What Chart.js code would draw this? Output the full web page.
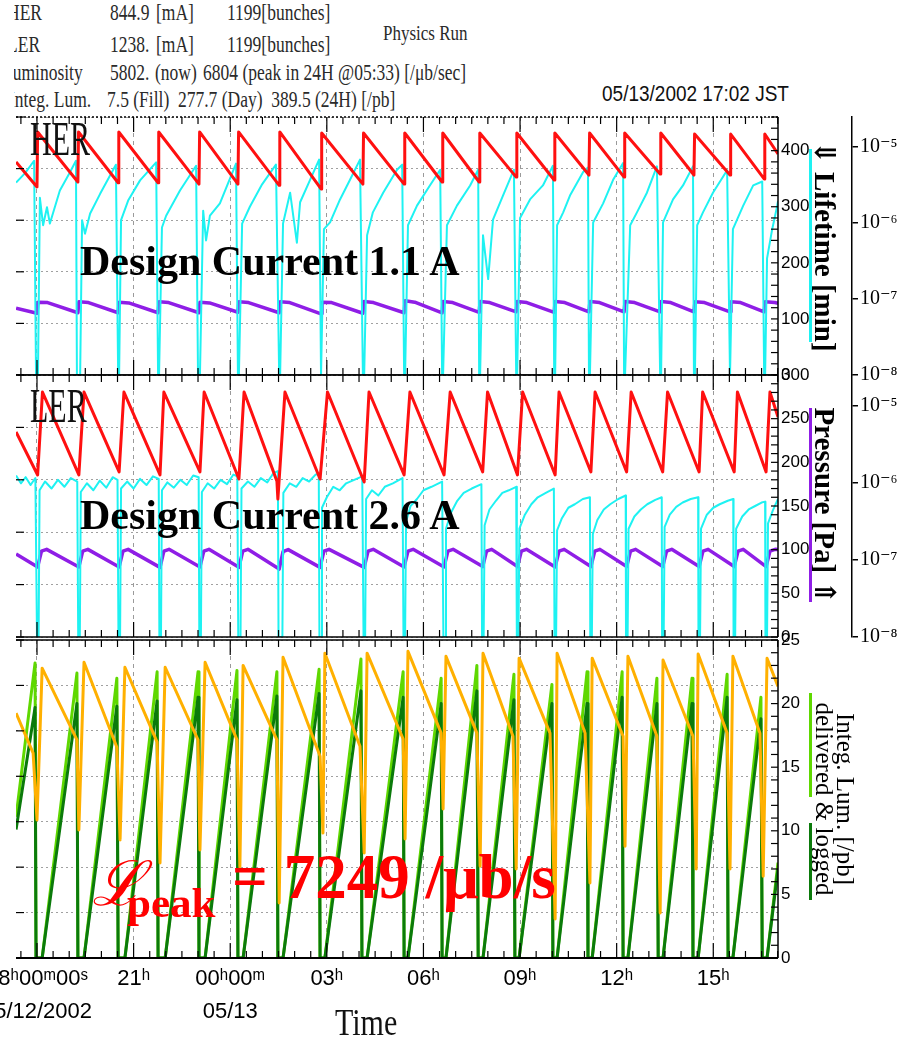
<!DOCTYPE html>
<html>
<head>
<meta charset="utf-8">
<title>KEKB Physics Run 05/13/2002</title>
<script src="https://cdn.jsdelivr.net/npm/chart.js@4.4.0/dist/chart.umd.min.js"></script>
<style>
  html, body { margin: 0; padding: 0; background: #fff; }
  body { width: 899px; height: 1047px; position: relative; overflow: hidden; }
  .abs { position: absolute; white-space: nowrap; }
  .serif { font-family: 'Liberation Serif', 'DejaVu Serif', serif; }
  .narrow { font-family: 'Liberation Sans Narrow', 'Liberation Sans', Arial, sans-serif; }
  #hdr { position: absolute; left: 14px; top: 0; width: 520px; height: 118px; overflow: hidden; }
  .hl { position: absolute; white-space: pre; font-size: 17.5px; line-height: 18px; color: #2a2a2a;
        transform: scaleY(1.3); transform-origin: 0 0; }
  .panel { position: absolute; left: 0; width: 899px; }
  .bar { position: absolute; width: 3px; }
  .big { font-weight: bold; font-size: 42px; line-height: 42px; color: #000; }
  .lum { color: #ff0000; font-weight: bold; }
</style>
</head>
<body>

<!-- header block (left edge of the original screenshot is cut off) -->
<div id="hdr" class="serif">
  <div class="hl" style="left:-7px; top:0px;">HER</div>
  <div class="hl" style="left:96px; top:0px;">844.9</div>
  <div class="hl" style="left:142px; top:0px;">[mA]</div>
  <div class="hl" style="left:213px; top:0px;">1199[bunches]</div>

  <div class="hl" style="left:-7px; top:32px;">LER</div>
  <div class="hl" style="left:96px; top:32px;">1238.</div>
  <div class="hl" style="left:142px; top:32px;">[mA]</div>
  <div class="hl" style="left:213px; top:32px;">1199[bunches]</div>

  <div class="hl" style="left:-12px; top:60px;">Luminosity</div>
  <div class="hl" style="left:96px; top:60px;">5802.</div>
  <div class="hl" style="left:141px; top:60px;">(now)</div>
  <div class="hl" style="left:189px; top:60px;">6804 (peak in 24H @05:33) [/μb/sec]</div>

  <div class="hl" style="left:-5px; top:87px;">Integ. Lum.</div>
  <div class="hl" style="left:93px; top:87px;">7.5 (Fill)  277.7 (Day)  389.5 (24H) [/pb]</div>
</div>
<div class="abs serif" style="left:383px; top:22px; font-size:17px; line-height:17px; color:#2a2a2a; transform:scaleY(1.25); transform-origin:0 0;">Physics Run</div>
<div class="abs narrow" style="left:602px; top:82px; font-size:19px; line-height:19px; color:#111; transform:scaleY(1.2); transform-origin:0 0;">05/13/2002 17:02 JST</div>

<div class="panel" style="top:100px; height:300px;"><canvas id="herChart"></canvas></div>
<div class="panel" style="top:360px; height:295px;"><canvas id="lerChart"></canvas></div>
<div class="panel" style="top:625px; height:422px;"><canvas id="lumChart"></canvas></div>

<!-- legend colour bars beside the right-hand axis titles -->
<div class="bar" style="left:809px; top:149px; height:193px; background:#1ef2f2;"></div>
<div class="bar" style="left:809px; top:408px; height:194px; background:#8f1ee6;"></div>
<div class="bar" style="left:809px; top:693px; height:104px; background:#5fd800;"></div>
<div class="bar" style="left:809px; top:823px; height:77px; background:#0b7a0b;"></div>

<!-- annotations -->
<div class="abs serif" style="left:30px; top:115px; font-size:30px; line-height:30px; color:#111; transform:scaleY(1.6); transform-origin:0 0;">HER</div>
<div class="abs serif" style="left:30px; top:382px; font-size:30px; line-height:30px; color:#111; transform:scaleY(1.6); transform-origin:0 0;">LER</div>
<div class="abs serif big" style="left:80px; top:240px;">Design Current 1.1 A</div>
<div class="abs serif big" style="left:80px; top:494px;">Design Current 2.6 A</div>
<div class="abs serif lum" style="left:92px; top:853px; font-size:62px; line-height:62px; font-style:italic; font-weight:normal;">ℒ</div>
<div class="abs serif lum" style="left:127px; top:881px; font-size:43px; line-height:43px;">peak</div>
<div class="abs serif lum" style="left:232px; top:846px; font-size:63px; line-height:63px;">= 7249 /μb/s</div>
<div class="abs serif" style="left:335px; top:1004px; font-size:30px; line-height:30px; color:#111; transform:scaleY(1.25); transform-origin:0 0;">Time</div>

<script>
// ==========================================
// 1. DATA (x = hours after 18:00 05/12/2002)
// ==========================================
const xMin = -0.652;
const xMax = 23.01;
const xLabelHours = [0, 3, 6, 9, 12, 15, 18, 21];
const xLabels = [['18ʰ00ᵐ00ˢ', '05/12/2002'], '21ʰ', ['00ʰ00ᵐ', '05/13'], '03ʰ', '06ʰ', '09ʰ', '12ʰ', '15ʰ'];

const presTicks = [1e-8, 1e-7, 1e-6, 1e-5];
const presTickLabels = ['10⁻⁸', '10⁻⁷', '10⁻⁶', '10⁻⁵'];

// HER beam current [mA]
const herCurrent = [
  [-0.65, 826], [0.00, 729], [0.02, 942], [1.27, 748], [1.29, 942], [2.52, 745], [2.54, 942],
  [3.76, 745], [3.78, 942], [5.03, 740], [5.05, 942], [6.24, 740], [6.26, 942], [7.52, 735], [7.54, 942],
  [8.82, 721], [8.84, 938], [10.12, 740], [10.14, 938], [11.40, 740], [11.42, 938], [12.58, 748], [12.60, 938],
  [13.73, 748], [13.75, 938], [14.88, 767], [14.90, 938], [16.06, 756], [16.08, 938], [17.14, 775], [17.16, 938],
  [18.23, 767], [18.25, 938], [19.35, 779], [19.37, 938], [20.40, 775], [20.42, 934], [21.52, 775], [21.54, 934],
  [22.58, 760], [22.60, 934], [23.01, 857]
];

// HER lifetime [min]
const herLifetime = [
  [-0.65, 343], [-0.37, 360], [-0.09, 382], [-0.03, 0], [0.03, 0], [0.09, 316], [0.19, 267], [0.31, 299], [0.40, 270], [0.71, 329], [1.02, 361], [1.21, 382],
  [1.24, 0], [1.34, 0], [1.40, 276], [1.49, 252], [1.65, 288], [1.96, 323], [2.45, 375],
  [2.52, 0], [2.55, 0], [2.61, 276], [2.83, 311], [3.20, 347], [3.70, 379],
  [3.76, 0], [3.79, 0], [3.88, 263], [4.01, 284], [4.44, 329], [4.94, 373],
  [5.00, 0], [5.06, 0], [5.16, 293], [5.25, 240], [5.37, 284], [5.68, 306], [6.18, 377],
  [6.24, 0], [6.27, 0], [6.37, 270], [6.61, 300], [6.99, 340], [7.42, 375],
  [7.52, 0], [7.55, 0], [7.64, 270], [7.86, 325], [8.07, 236], [8.17, 308], [8.48, 348], [8.76, 384],
  [8.82, 0], [8.85, 0], [8.91, 260], [9.10, 272], [9.41, 313], [9.72, 348], [10.03, 384],
  [10.12, 0], [10.16, 0], [10.25, 249], [10.43, 290], [10.75, 325], [11.18, 366], [11.34, 375],
  [11.40, 0], [11.43, 0], [11.52, 267], [11.80, 302], [12.20, 338], [12.52, 366],
  [12.58, 0], [12.61, 0], [12.73, 267], [13.04, 302], [13.45, 338], [13.70, 366],
  [13.73, 0], [13.76, 0], [13.85, 249], [14.01, 171], [14.16, 277], [14.47, 320], [14.81, 366],
  [14.88, 0], [14.91, 0], [15.00, 280], [15.31, 313], [15.71, 338], [16.02, 373],
  [16.06, 0], [16.09, 0], [16.15, 267], [16.34, 290], [16.55, 320], [16.96, 362], [17.11, 370],
  [17.14, 0], [17.17, 0], [17.27, 272], [17.58, 306], [17.89, 348], [18.20, 378],
  [18.23, 0], [18.26, 0], [18.42, 267], [18.63, 290], [18.94, 325], [19.25, 372],
  [19.35, 0], [19.38, 0], [19.44, 272], [19.75, 313], [20.06, 338], [20.37, 372],
  [20.40, 0], [20.43, 0], [20.50, 267], [20.68, 290], [20.99, 325], [21.43, 365],
  [21.52, 0], [21.55, 0], [21.61, 260], [21.93, 302], [22.24, 338], [22.52, 345],
  [22.58, 0], [22.61, 0], [22.67, 208], [22.83, 260], [22.98, 300], [23.01, 310]
];

// HER vacuum pressure [Pa]
const herPressure = [
  [-0.65, 0.76e-7], [0.00, 0.65e-7], [0.03, 0.91e-7], [0.33, 0.90e-7],
  [1.27, 0.66e-7], [1.30, 0.92e-7], [1.60, 0.90e-7],
  [2.52, 0.66e-7], [2.55, 0.91e-7], [2.85, 0.89e-7],
  [3.76, 0.66e-7], [3.79, 0.92e-7], [4.09, 0.90e-7],
  [5.03, 0.66e-7], [5.06, 0.91e-7], [5.36, 0.89e-7],
  [6.24, 0.67e-7], [6.27, 0.92e-7], [6.57, 0.90e-7],
  [7.52, 0.66e-7], [7.55, 0.92e-7], [7.85, 0.90e-7],
  [8.82, 0.64e-7], [8.85, 0.91e-7], [9.15, 0.90e-7],
  [10.12, 0.65e-7], [10.15, 0.93e-7], [10.45, 0.90e-7],
  [11.40, 0.66e-7], [11.43, 0.95e-7], [11.73, 0.91e-7],
  [12.58, 0.66e-7], [12.61, 0.93e-7], [12.91, 0.90e-7],
  [13.73, 0.67e-7], [13.76, 0.93e-7], [14.06, 0.90e-7],
  [14.88, 0.68e-7], [14.91, 0.93e-7], [15.21, 0.90e-7],
  [16.06, 0.67e-7], [16.09, 0.93e-7], [16.39, 0.90e-7],
  [17.14, 0.68e-7], [17.17, 0.93e-7], [17.47, 0.90e-7],
  [18.23, 0.68e-7], [18.26, 0.93e-7], [18.56, 0.90e-7],
  [19.35, 0.68e-7], [19.38, 0.93e-7], [19.68, 0.90e-7],
  [20.40, 0.68e-7], [20.43, 0.92e-7], [20.73, 0.90e-7],
  [21.52, 0.68e-7], [21.55, 0.92e-7], [21.85, 0.90e-7],
  [22.58, 0.68e-7], [22.61, 0.92e-7], [22.91, 0.90e-7], [23.01, 0.88e-7]
];

// LER beam current [mA]
const lerCurrent = [
  [-0.65, 1565], [0.02, 1237], [0.17, 1870], [1.30, 1237], [1.46, 1870], [2.55, 1260], [2.70, 1870],
  [3.82, 1237], [3.94, 1870], [5.06, 1260], [5.19, 1870], [6.27, 1206], [6.43, 1870],
  [7.45, 1190], [7.48, 1053], [7.70, 1870], [8.79, 1206], [9.02, 1870], [10.16, 1183], [10.31, 1870],
  [11.40, 1237], [11.58, 1870], [12.64, 1237], [12.83, 1870], [13.84, 1260], [13.99, 1870],
  [14.92, 1237], [15.08, 1870], [16.09, 1237], [16.21, 1870], [17.20, 1260], [17.33, 1870],
  [18.31, 1260], [18.45, 1870], [19.43, 1260], [19.58, 1870], [20.56, 1260], [20.67, 1870],
  [21.65, 1260], [21.75, 1870], [22.64, 1260], [22.76, 1870], [23.01, 1680]
];

// LER lifetime [min]
const lerLifetime = [
  [-0.65, 185], [-0.50, 176], [-0.35, 183], [-0.20, 174], [-0.05, 182], [0.00, 0], [0.05, 0], [0.08, 168], [0.25, 178], [0.45, 170], [0.65, 180], [0.85, 172], [1.05, 182], [1.25, 178],
  [1.28, 0], [1.33, 0], [1.36, 166], [1.55, 176], [1.75, 168], [1.95, 179], [2.15, 171], [2.35, 183], [2.50, 180],
  [2.53, 0], [2.58, 0], [2.61, 170], [2.80, 178], [3.00, 170], [3.20, 181], [3.40, 174], [3.60, 184], [3.78, 181],
  [3.80, 0], [3.85, 0], [3.88, 168], [4.05, 177], [4.25, 171], [4.45, 180], [4.65, 174], [4.85, 185], [5.02, 183],
  [5.04, 0], [5.09, 0], [5.12, 166], [5.30, 176], [5.50, 170], [5.70, 180], [5.90, 175], [6.10, 186], [6.22, 184],
  [6.25, 0], [6.32, 0], [6.35, 170], [6.55, 178], [6.75, 172], [6.95, 182], [7.15, 177], [7.35, 188], [7.48, 190],
  [7.50, 0], [7.62, 0], [7.65, 165], [7.85, 176], [8.05, 172], [8.25, 182], [8.45, 178], [8.65, 186], [8.75, 186],
  [8.77, 0], [8.82, 0], [8.85, 148], [9.00, 160], [9.20, 172], [9.40, 168], [9.60, 176], [9.85, 180], [10.10, 184],
  [10.14, 0], [10.19, 0], [10.22, 158], [10.40, 168], [10.60, 162], [10.80, 172], [11.05, 176], [11.35, 182],
  [11.38, 0], [11.43, 0], [11.46, 132], [11.60, 150], [11.80, 158], [12.00, 168], [12.25, 172], [12.58, 178],
  [12.62, 0], [12.67, 0], [12.70, 124], [12.85, 142], [13.05, 156], [13.25, 165], [13.50, 170], [13.80, 175],
  [13.82, 0], [13.87, 0], [13.90, 128], [14.05, 146], [14.25, 156], [14.45, 165], [14.65, 168], [14.88, 172],
  [14.90, 0], [14.95, 0], [14.98, 124], [15.15, 140], [15.35, 152], [15.55, 160], [15.80, 165], [16.05, 170],
  [16.07, 0], [16.12, 0], [16.15, 122], [16.30, 136], [16.50, 148], [16.70, 152], [16.95, 158], [17.17, 160],
  [17.18, 0], [17.23, 0], [17.26, 118], [17.40, 134], [17.60, 146], [17.80, 152], [18.05, 158], [18.28, 162],
  [18.29, 0], [18.34, 0], [18.37, 124], [18.55, 138], [18.75, 146], [18.95, 152], [19.20, 157], [19.40, 160],
  [19.41, 0], [19.46, 0], [19.49, 126], [19.65, 140], [19.85, 149], [20.05, 154], [20.30, 158], [20.53, 160],
  [20.54, 0], [20.59, 0], [20.62, 124], [20.80, 140], [21.00, 148], [21.20, 152], [21.45, 156], [21.62, 158],
  [21.63, 0], [21.68, 0], [21.71, 124], [21.90, 138], [22.10, 146], [22.30, 150], [22.50, 154], [22.61, 155],
  [22.62, 0], [22.67, 0], [22.70, 130], [22.85, 145], [23.01, 158]
];

// LER vacuum pressure [Pa]
const lerPressure = [
  [-0.65, 1.19e-7], [0.02, 0.81e-7], [0.14, 1.30e-7], [0.30, 1.37e-7],
  [1.30, 0.81e-7], [1.42, 1.30e-7], [1.58, 1.37e-7],
  [2.55, 0.81e-7], [2.67, 1.30e-7], [2.83, 1.37e-7],
  [3.82, 0.80e-7], [3.94, 1.30e-7], [4.10, 1.37e-7],
  [5.06, 0.81e-7], [5.18, 1.30e-7], [5.34, 1.37e-7],
  [6.27, 0.80e-7], [6.39, 1.30e-7], [6.55, 1.37e-7],
  [7.52, 0.76e-7], [7.64, 1.28e-7], [7.80, 1.36e-7],
  [8.79, 0.80e-7], [8.91, 1.30e-7], [9.07, 1.37e-7],
  [10.16, 0.80e-7], [10.28, 1.30e-7], [10.44, 1.37e-7],
  [11.40, 0.81e-7], [11.52, 1.30e-7], [11.68, 1.37e-7],
  [12.64, 0.81e-7], [12.76, 1.30e-7], [12.92, 1.37e-7],
  [13.84, 0.82e-7], [13.96, 1.30e-7], [14.12, 1.37e-7],
  [14.92, 0.82e-7], [15.04, 1.30e-7], [15.20, 1.37e-7],
  [16.09, 0.81e-7], [16.21, 1.30e-7], [16.37, 1.37e-7],
  [17.20, 0.82e-7], [17.32, 1.30e-7], [17.48, 1.37e-7],
  [18.31, 0.82e-7], [18.43, 1.30e-7], [18.59, 1.37e-7],
  [19.43, 0.82e-7], [19.55, 1.30e-7], [19.71, 1.37e-7],
  [20.56, 0.82e-7], [20.68, 1.30e-7], [20.84, 1.37e-7],
  [21.65, 0.82e-7], [21.77, 1.30e-7], [21.93, 1.37e-7],
  [22.64, 0.82e-7], [22.76, 1.30e-7], [22.92, 1.37e-7], [23.01, 1.36e-7]
];

// Luminosity [/μb/s]
const luminosity = [
  [-0.65, 5390], [-0.12, 4510], [0.00, 3040], [0.16, 6380],
  [1.24, 4800], [1.30, 2820], [1.46, 6510],
  [2.48, 4640], [2.58, 2600], [2.73, 6400],
  [3.73, 4750], [3.82, 2090], [3.98, 6400],
  [5.00, 4800], [5.06, 2380], [5.22, 6510],
  [6.21, 4800], [6.30, 2000], [6.40, 6440],
  [7.45, 4800], [7.52, 1210], [7.64, 6620],
  [8.79, 4440], [8.88, 2750], [8.94, 6710],
  [10.03, 4660], [10.16, 2310], [10.25, 6710],
  [11.37, 4820], [11.43, 2620], [11.52, 6750],
  [12.55, 4950], [12.61, 3280], [12.70, 6640],
  [13.66, 4950], [13.76, 2020], [13.85, 6710],
  [14.78, 4880], [14.88, 1960], [14.97, 6600],
  [15.93, 4950], [16.09, 860], [16.15, 6710],
  [17.02, 4950], [17.17, 1650], [17.24, 6600],
  [18.20, 4880], [18.26, 2460], [18.35, 6640],
  [19.25, 4880], [19.35, 990], [19.44, 6560],
  [20.37, 4880], [20.47, 1960], [20.53, 6690],
  [21.43, 4950], [21.52, 1960], [21.61, 6640],
  [22.45, 4950], [22.55, 1800], [22.67, 6600],
  [23.01, 5980]
];

// Integrated luminosity per fill [/pb], delivered
const integDelivered = [
  [-0.65, 11.1], [-0.06, 23.2], [-0.03, 0], [0.16, 0], [1.24, 22.4], [1.27, 0], [1.46, 0],
  [2.48, 22.0], [2.52, 0], [2.73, 0], [3.73, 22.5], [3.76, 0], [3.98, 0], [5.00, 22.5], [5.03, 0], [5.22, 0],
  [6.21, 22.6], [6.24, 0], [6.40, 0], [7.45, 22.5], [7.48, 0], [7.64, 0], [8.76, 22.7], [8.79, 0], [8.94, 0],
  [10.06, 23.5], [10.09, 0], [10.25, 0], [11.37, 22.5], [11.40, 0], [11.52, 0], [12.55, 22.0], [12.58, 0], [12.70, 0],
  [13.66, 23.0], [13.70, 0], [13.85, 0], [14.81, 22.3], [14.84, 0], [14.97, 0], [15.99, 21.5], [16.02, 0], [16.15, 0],
  [17.08, 22.5], [17.11, 0], [17.24, 0], [18.17, 22.5], [18.20, 0], [18.35, 0], [19.25, 22.0], [19.29, 0], [19.44, 0],
  [20.34, 22.0], [20.37, 0], [20.53, 0], [21.43, 22.3], [21.46, 0], [21.61, 0], [22.48, 20.5], [22.52, 0], [22.67, 0],
  [23.01, 7.5]
];

// Integrated luminosity per fill [/pb], logged
const integLogged = [
  [-0.65, 10.1], [-0.06, 19.7], [-0.03, 0], [0.16, 0], [1.24, 20.0], [1.27, 0], [1.46, 0],
  [2.48, 19.8], [2.52, 0], [2.73, 0], [3.73, 20.2], [3.76, 0], [3.98, 0], [5.00, 20.5], [5.03, 0], [5.22, 0],
  [6.21, 20.3], [6.24, 0], [6.40, 0], [7.45, 20.6], [7.48, 0], [7.64, 0], [8.76, 20.8], [8.79, 0], [8.94, 0],
  [10.06, 21.0], [10.09, 0], [10.25, 0], [11.37, 20.5], [11.40, 0], [11.52, 0], [12.55, 20.0], [12.58, 0], [12.70, 0],
  [13.66, 21.0], [13.70, 0], [13.85, 0], [14.81, 20.3], [14.84, 0], [14.97, 0], [15.99, 20.0], [16.02, 0], [16.15, 0],
  [17.08, 20.0], [17.11, 0], [17.24, 0], [18.17, 20.5], [18.20, 0], [18.35, 0], [19.25, 20.0], [19.29, 0], [19.44, 0],
  [20.34, 20.0], [20.37, 0], [20.53, 0], [21.43, 20.5], [21.46, 0], [21.61, 0], [22.48, 18.8], [22.52, 0], [22.67, 0],
  [23.01, 7.0]
];

// ==========================================
// 2. HELPERS
// ==========================================
const SERIF = "'Liberation Serif', 'DejaVu Serif', serif";
const NARROW = "'Liberation Sans Narrow', 'Liberation Sans', Arial, sans-serif";

const pts = arr => arr.map(p => ({ x: p[0], y: p[1] }));

function series(data, color, width, axis) {
  return {
    data: pts(data), yAxisID: axis, borderColor: color, borderWidth: width,
    pointRadius: 0, tension: 0, fill: false, borderJoinStyle: 'round'
  };
}

// box frame + inward tick marks, as on the original plots
const framePlugin = {
  id: 'frame',
  afterDatasetsDraw(chart, args, opts) {
    const { ctx, chartArea: a, scales } = chart;
    const seg = (x1, y1, x2, y2) => { ctx.beginPath(); ctx.moveTo(x1, y1); ctx.lineTo(x2, y2); ctx.stroke(); };
    ctx.save();
    ctx.strokeStyle = '#000';
    ctx.lineWidth = 1.5;
    ctx.setLineDash(opts.topDash || []);
    seg(a.left, a.top, a.right, a.top);
    ctx.setLineDash([]);
    ctx.lineWidth = opts.bottomWidth || 1.5;
    seg(a.left, a.bottom, a.right, a.bottom);
    ctx.lineWidth = 1.5;
    seg(a.right, a.top, a.right, a.bottom);

    ctx.lineWidth = 1.2;
    scales.x.ticks.forEach(t => {
      const px = scales.x.getPixelForValue(t.value);
      const len = xLabelHours.includes(t.value) ? 15 : 7;
      seg(px, a.top, px, a.top + len);
      seg(px, a.bottom, px, a.bottom - len);
    });
    scales.y.ticks.forEach(t => {
      const py = scales.y.getPixelForValue(t.value);
      seg(a.left, py, a.left + 8, py);
    });
    const r = scales[opts.right];
    r.ticks.forEach(t => {
      const py = r.getPixelForValue(t.value);
      seg(a.right - 7, py, a.right, py);
    });
    ctx.restore();
  }
};
Chart.register(framePlugin);

function xScale(showLabels, height) {
  return {
    type: 'linear', min: xMin, max: xMax,
    afterBuildTicks: s => {
      const t = [];
      for (let v = -0.5; v <= xMax; v += 0.5) t.push({ value: v });
      s.ticks = t;
    },
    afterFit: s => { s.height = height; },
    grid: {
      color: c => (c.tick && xLabelHours.includes(c.tick.value)) ? '#9a9a9a' : 'rgba(0,0,0,0)',
      lineWidth: 1, drawTicks: false
    },
    border: { display: false, dash: [4, 4] },
    ticks: {
      display: showLabels, autoSkip: false, maxRotation: 0, minRotation: 0, padding: 4, color: '#000',
      font: { family: NARROW, size: 22, lineHeight: 1.5 },
      callback: v => { const i = xLabelHours.indexOf(v); return i < 0 ? '' : xLabels[i]; }
    }
  };
}

function leftScale(max, step) {
  return {
    position: 'left', min: 0, max: max,
    afterFit: s => { s.width = 16; },
    ticks: { display: false, stepSize: step, autoSkip: false },
    grid: { color: '#a0a0a0', lineWidth: 1, drawTicks: false },
    border: { display: false, dash: [2, 3] }
  };
}

function rightScale(max, step, every, width, title) {
  return {
    position: 'right', min: 0, max: max,
    afterFit: s => { s.width = width; },
    grid: { drawOnChartArea: false, drawTicks: false },
    border: { display: false },
    ticks: {
      stepSize: step, autoSkip: false, padding: 3, color: '#000',
      font: { family: NARROW, size: 17 },
      callback: v => (v % every === 0 ? String(v) : '')
    },
    title: title
  };
}

function presScale() {
  return {
    type: 'logarithmic', position: 'right', min: 1e-8, max: 2.5e-5,
    afterBuildTicks: s => { s.ticks = presTicks.map(v => ({ value: v })); },
    afterFit: s => { s.width = 47; },
    grid: { drawOnChartArea: false, drawTicks: true, tickLength: 6, color: '#000', lineWidth: 1.5 },
    border: { display: true, color: '#000', width: 1.5 },
    ticks: {
      autoSkip: false, padding: 2, color: '#000',
      font: { family: SERIF, size: 20 },
      callback: (v, i) => presTickLabels[i]
    }
  };
}

function makeChart(id, datasets, scales, padding, frameOpts) {
  return new Chart(document.getElementById(id), {
    type: 'line',
    data: { datasets: datasets },
    options: {
      animation: false,
      responsive: true,
      maintainAspectRatio: false,
      layout: { padding: padding },
      plugins: { legend: { display: false }, tooltip: { enabled: false }, frame: frameOpts },
      scales: scales
    }
  });
}

// ==========================================
// 3. CHARTS
// ==========================================
makeChart('herChart',
  [
    series(herCurrent, '#ff1010', 3, 'y'),
    series(herLifetime, '#1ef2f2', 2, 'yLife'),
    series(herPressure, '#8f1ee6', 3.5, 'yPres')
  ],
  {
    x: xScale(false, 0),
    y: leftScale(1000, 200),
    yLife: rightScale(460, 20, 100, 74, {
      display: true, text: '⇓ Lifetime [min]', color: '#000',
      font: { family: SERIF, size: 29, weight: 'bold', lineHeight: 1.2 }, padding: { top: 12, bottom: 0 }
    }),
    yPres: presScale()
  },
  { top: 17, bottom: 25, left: 0, right: 0 },
  { right: 'yLife', topDash: [2, 2] }
);

makeChart('lerChart',
  [
    series(lerCurrent, '#ff1010', 3, 'y'),
    series(lerLifetime, '#1ef2f2', 2, 'yLife'),
    series(lerPressure, '#8f1ee6', 3.5, 'yPres')
  ],
  {
    x: xScale(false, 0),
    y: leftScale(2000, 400),
    yLife: rightScale(300, 10, 50, 74, {
      display: true, text: 'Pressure [Pa] ⇑', color: '#000',
      font: { family: SERIF, size: 29, weight: 'bold', lineHeight: 1.2 }, padding: { top: 12, bottom: 0 }
    }),
    yPres: presScale()
  },
  { top: 15, bottom: 18, left: 0, right: 0 },
  { right: 'yLife' }
);

makeChart('lumChart',
  [
    series(luminosity, '#ffb000', 3, 'y'),
    series(integLogged, '#0b7a0b', 3, 'yDel'),
    series(integDelivered, '#5fd800', 3, 'yDel')
  ],
  {
    x: xScale(true, 89),
    y: leftScale(7000, 1000),
    yDel: rightScale(25, 1, 5, 121, {
      display: true, text: ['Integ. Lum. [/pb]', 'delivered & logged'], color: '#000',
      font: { family: SERIF, size: 25, lineHeight: 0.85 }, padding: { top: 45, bottom: 0 }
    })
  },
  { top: 15, bottom: 0, left: 0, right: 0 },
  { right: 'yDel', bottomWidth: 2 }
);
</script>
</body>
</html>
